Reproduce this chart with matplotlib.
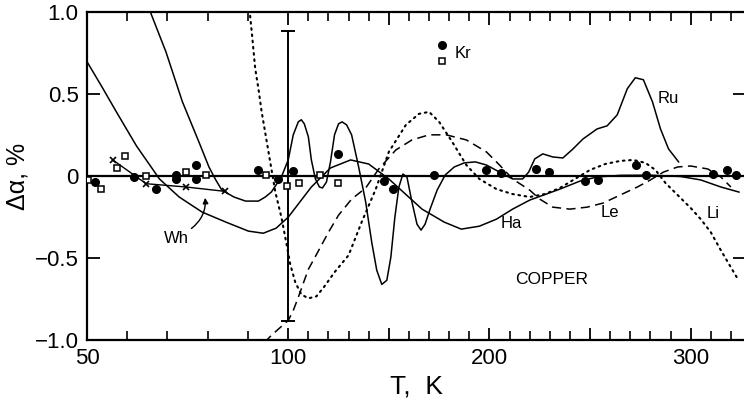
import numpy as np
import matplotlib
matplotlib.use("Agg")
import matplotlib.pyplot as plt

plt.rcParams['font.family'] = ['Liberation Sans', 'DejaVu Sans']

# Kr data: filled circles and open squares
kr_fill_T = [52.0, 61.8, 67.2, 72.0, 72.0, 77.0, 77.2, 92.6, 97.5, 102.5, 124.5,
             147.8, 152.0, 172.5, 198.3, 205.8, 223.0, 229.7, 247.7, 253.7, 273.0,
             278.0, 311.3, 318.0, 322.5]
kr_fill_y = [-0.037, -0.006, -0.081, 0.008, -0.020, 0.065, -0.020, 0.035, -0.020, 0.029, 0.133,
             -0.032, -0.078, 0.008, 0.035, 0.018, 0.041, 0.024, -0.032, -0.026, 0.065,
             0.004, 0.014, 0.039, 0.004]
kr_open_T = [50.2, 53.6, 57.5, 59.4, 64.7, 74.6, 79.5, 94.6, 99.8, 105.3, 115.8, 124.5]
kr_open_y = [-0.024, -0.081, 0.049, 0.122, 0.0, 0.024, 0.004, 0.004, -0.063, -0.041, 0.008, -0.043]

# Wh points
wh_T = [56.4, 64.7, 74.6, 84.4]
wh_y = [0.098, -0.047, -0.067, -0.094]

# Ha curve
ha_T = [50.0, 53.7, 57.3, 62.3, 68.0, 72.9, 78.6, 84.5, 90.1, 93.8, 97.0, 100.0, 111.5,
        121.0, 131.0, 140.0, 150.0, 166.5, 177.5, 186.0, 195.0, 203.5, 211.5, 220.0,
        235.0, 245.0, 253.5, 265.0, 280.0, 295.0, 305.0, 315.0, 324.0]
ha_y = [0.697, 0.544, 0.391, 0.183, -0.018, -0.128, -0.220, -0.281, -0.336, -0.349, -0.318,
        -0.251, -0.067, 0.049, 0.098, 0.073, -0.018, -0.202, -0.281, -0.324, -0.306,
        -0.263, -0.202, -0.147, -0.080, -0.031, -0.006, 0.004, 0.005, -0.003, -0.024,
        -0.067, -0.098]

# Ru curve
ru_T = [65.5, 65.9, 69.6, 73.7, 77.8, 80.3, 82.0, 83.5, 86.5, 89.4, 92.6, 94.3, 95.8, 98.3,
        100.0, 102.5, 105.0, 106.5, 108.0, 110.0, 111.5, 113.5, 115.5, 117.0, 119.0, 121.0,
        123.0, 125.0, 126.75, 129.0, 131.5, 135.0, 138.5, 141.5, 144.0, 146.5, 149.0, 151.0,
        153.0, 155.0, 157.0, 159.0, 161.5, 164.0, 166.0, 168.0, 170.5, 174.0, 178.0, 182.5,
        187.5, 193.0, 198.5, 205.0, 211.5, 216.5, 219.5, 222.5, 226.5, 231.5, 236.5, 241.5,
        246.5, 253.5, 258.5, 263.5, 268.5, 272.5, 276.5, 281.0, 285.0, 289.0, 294.0]
ru_y = [1.03, 0.99, 0.758, 0.453, 0.208, 0.055, -0.024, -0.086, -0.128, -0.153, -0.153, -0.128,
        -0.098, -0.006, 0.098, 0.251, 0.330, 0.343, 0.318, 0.239, 0.098, -0.018, -0.067,
        -0.073, -0.037, 0.086, 0.251, 0.318, 0.330, 0.312, 0.251, 0.055, -0.159, -0.404,
        -0.575, -0.661, -0.636, -0.495, -0.251, -0.067, 0.012, -0.006, -0.159, -0.294,
        -0.330, -0.294, -0.202, -0.086, 0.006, 0.055, 0.080, 0.086, 0.067, 0.024, -0.018,
        -0.018, 0.024, 0.104, 0.135, 0.116, 0.110, 0.165, 0.226, 0.287, 0.306, 0.373,
        0.532, 0.599, 0.587, 0.453, 0.287, 0.165, 0.086]

# Li curve
li_T = [90.4, 90.5, 91.0, 91.8, 92.6, 93.4, 95.1, 96.8, 98.3, 99.5, 101.0, 103.5, 106.5,
        110.0, 114.0, 118.0, 123.0, 130.0, 136.5, 143.5, 150.0, 158.5, 165.0, 170.0, 175.0,
        181.5, 188.5, 195.0, 203.5, 211.5, 220.0, 227.5, 235.0, 242.5, 250.0, 257.5, 265.0,
        271.5, 277.5, 282.5, 287.5, 293.5, 300.0, 305.0, 310.0, 315.0, 320.0, 323.5]
li_y = [1.015, 0.985, 0.862, 0.654, 0.532, 0.391, 0.147, -0.098, -0.251, -0.404, -0.538,
        -0.648, -0.722, -0.746, -0.734, -0.673, -0.587, -0.483, -0.281, -0.080, 0.147, 0.312,
        0.379, 0.391, 0.330, 0.208, 0.067, -0.018, -0.080, -0.110, -0.128, -0.110, -0.073,
        -0.018, 0.037, 0.073, 0.092, 0.098, 0.080, 0.037, -0.043, -0.116, -0.195, -0.263,
        -0.343, -0.453, -0.557, -0.630]

# Le curve
le_T = [94.1, 95.8, 98.0, 100.0, 102.5, 105.0, 107.5, 110.0, 113.0, 116.0, 120.0, 125.0,
        131.5, 138.5, 145.0, 153.5, 161.5, 170.0, 178.5, 188.5, 198.5, 205.0, 211.5, 220.0,
        225.0, 231.5, 240.0, 248.5, 256.5, 265.0, 273.5, 280.0, 286.5, 293.5, 300.0, 308.5,
        315.0, 320.0]
le_y = [-1.015, -0.972, -0.924, -0.881, -0.820, -0.740, -0.654, -0.569, -0.502, -0.434,
        -0.343, -0.239, -0.141, -0.073, 0.043, 0.159, 0.220, 0.251, 0.251, 0.220, 0.147,
        0.067, -0.018, -0.086, -0.141, -0.190, -0.202, -0.190, -0.165, -0.116, -0.067,
        -0.024, 0.024, 0.055, 0.061, 0.043, -0.006, -0.067]

# error bar at 100 K
err_T = [100.0]
err_y = [0.0]
err_size = [0.885]

x_major = [50, 100, 150, 200, 250, 300]
x_major_labels = ['50', '100', '', '200', '', '300']
x_minor = [60, 70, 80, 90, 110, 120, 130, 140, 160, 170, 180, 190, 210, 220, 230, 240,
           260, 270, 280, 290, 310, 320]
y_ticks = [-1.0, -0.5, 0.0, 0.5, 1.0]
y_tick_labels = ['\u22121.0', '\u22120.5', '0', '0.5', '1.0']


# below 100 K the temperature axis is stretched by a factor of two
def fwd(t):
    t = np.asarray(t, dtype=float)
    return np.where(t < 100, 2 * t - 100, t)


def inv(u):
    u = np.asarray(u, dtype=float)
    return np.where(u < 100, (u + 100) / 2, u)


fig = plt.figure(figsize=(7.44, 4.0), dpi=100)
ax = fig.add_axes([87 / 744, 60 / 400, 658 / 744, 328 / 400])
ax.set_xscale('function', functions=(fwd, inv))
ax.set_xlim(50, 327)
ax.set_ylim(-1.0, 1.0)

ax.axhline(0, color='black', lw=1.6, zorder=2)

lw = 1.1
ax.plot(ha_T, ha_y, color='black', lw=lw)
ax.plot(ru_T, ru_y, color='black', lw=lw)
ax.plot(li_T, li_y, color='black', lw=1.5, linestyle=(0, (0.8, 2.2)), dash_capstyle='round')
ax.plot(le_T, le_y, color='black', lw=lw, linestyle=(0, (6, 3.5)))
ax.plot(wh_T, wh_y, color='black', lw=1.0, marker='x', ms=5, mew=1.2)

ax.errorbar(err_T, err_y, yerr=err_size, fmt='none', ecolor='black', elinewidth=1.4,
            capsize=5, capthick=1.4)

ax.plot(kr_fill_T, kr_fill_y, 'o', color='black', ms=5.5, zorder=4)
ax.plot(kr_open_T, kr_open_y, 's', mfc='white', mec='black', mew=1.1, ms=5, zorder=4)

# legend for Kr
ax.plot([176.2], [0.80], 'o', color='black', ms=5.5)
ax.plot([176.2], [0.70], 's', mfc='white', mec='black', mew=1.1, ms=4.5)
ax.text(187, 0.75, 'Kr', fontsize=12, ha='center', va='center')

ax.text(288.75, 0.47, 'Ru', fontsize=12, ha='center', va='center')
ax.text(211, -0.29, 'Ha', fontsize=12, ha='center', va='center')
ax.text(260, -0.22, 'Le', fontsize=12, ha='center', va='center')
ax.text(311, -0.226, 'Li', fontsize=12, ha='center', va='center')
ax.text(230.75, -0.63, 'COPPER', fontsize=12.5, ha='center', va='center')
ax.text(72.3, -0.38, 'Wh', fontsize=12, ha='center', va='center')
ax.annotate('', xy=(79.3, -0.116), xytext=(75.4, -0.33),
            arrowprops=dict(arrowstyle='-|>', connectionstyle='arc3,rad=0.3',
                            color='black', lw=1.0, mutation_scale=8))

ax.set_xticks(x_major)
ax.set_xticklabels(x_major_labels)
ax.set_xticks(x_minor, minor=True)
ax.set_yticks(y_ticks)
ax.set_yticklabels(y_tick_labels)

ax.tick_params(axis='both', which='major', direction='in', top=True, right=True,
               length=9, width=1.3, labelsize=16, pad=6)
ax.tick_params(axis='x', which='minor', direction='in', top=True, length=6.5, width=1.2)
for s in ax.spines.values():
    s.set_linewidth(1.6)
ax.spines['right'].set_visible(False)

ax.set_xlabel('T,  K', fontsize=19, labelpad=4)
ax.set_ylabel('\u0394\u03b1, %', fontsize=18, labelpad=4)

fig.savefig('out.png', dpi=100)
